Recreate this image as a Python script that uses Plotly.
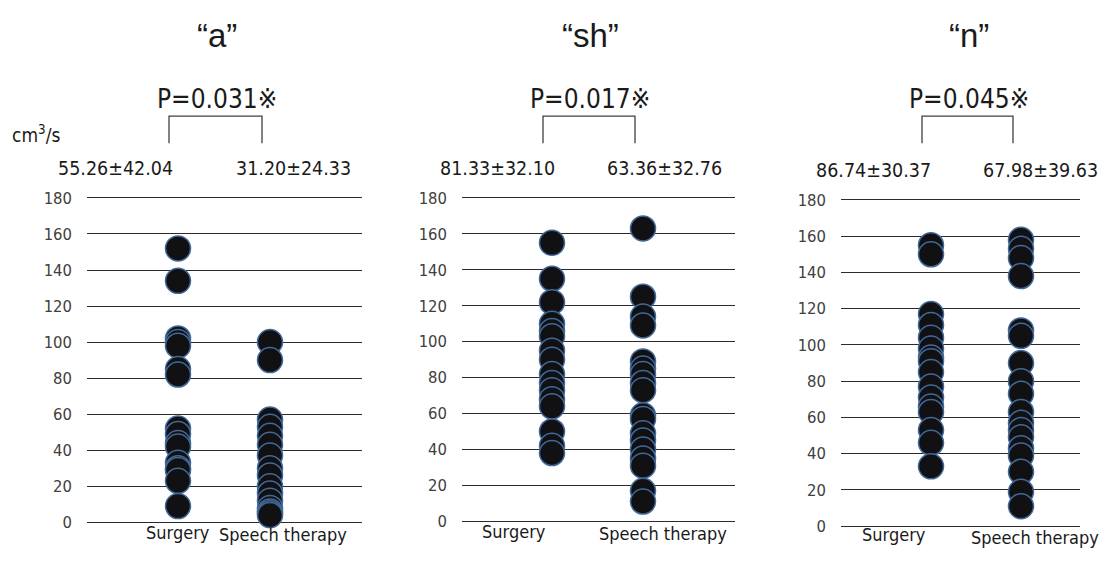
import plotly.graph_objects as go

W, H = 1108, 579

# ---- data ----
categories = ["Surgery", "Speech therapy"]
panel_titles = ["\u201ca\u201d", "\u201csh\u201d", "\u201cn\u201d"]
p_values = ["P=0.031\u203b", "P=0.017\u203b", "P=0.045\u203b"]
surgery_stats = ["55.26\u00b142.04", "81.33\u00b132.10", "86.74\u00b130.37"]
speech_stats = ["31.20\u00b124.33", "63.36\u00b132.76", "67.98\u00b139.63"]

a_surgery = [152, 134, 102, 100, 98, 85, 82, 52, 49, 44, 42, 33, 30, 29, 23, 9]
a_speech = [100, 90, 57, 53, 48, 43, 37, 30, 26, 20, 16, 12, 8, 6, 5, 4]
sh_surgery = [155, 135, 122, 110, 106, 103, 95, 90, 82, 77, 73, 68, 64, 50, 42, 38]
sh_speech = [163, 125, 114, 109, 89, 85, 82, 77, 73, 59, 57, 49, 45, 40, 35, 31, 17, 11]
n_surgery = [155, 150, 117, 111, 104, 98, 93, 91, 85, 77, 71, 66, 63, 53, 46, 33]
n_speech = [158, 153, 148, 138, 108, 105, 90, 80, 73, 63, 57, 53, 49, 43, 39, 30, 19, 11]

series = [(a_surgery, a_speech), (sh_surgery, sh_speech), (n_surgery, n_speech)]
y_ticks = [0, 20, 40, 60, 80, 100, 120, 140, 160, 180]

# ---- layout geometry (pixels) ----
# per panel: x left, x right, surgery px, speech px, y px of 0, y px of 180
panels = [
    (87, 362, 178, 270, 529, 196),
    (462, 735, 552, 643, 528, 196),
    (841, 1080, 931, 1021, 533, 198),
]
# label centres (px): surgery label, speech label, surgery stat, speech stat
label_pos = [
    ((178, 539), (283, 542), 115, 293),
    ((514, 538), (663, 541), 497, 664),
    ((894, 542), (1035, 545), 873, 1040),
]

FONT = "Tahoma, 'DejaVu Sans Condensed', 'Noto Sans', 'DejaVu Sans', sans-serif"
TITLE_FONT = "'Liberation Sans Narrow', 'Arial Narrow', 'Liberation Sans', sans-serif"
TXT = "#1a1a1a"

fig = go.Figure()


def px(x):
    return x / W


def py(y):
    return 1 - y / H


layout = dict(
    width=W, height=H,
    margin=dict(l=0, r=0, t=0, b=0),
    paper_bgcolor="white", plot_bgcolor="white",
    showlegend=False,
    font=dict(family=FONT, color=TXT, size=15),
)

annotations = []
shapes = []

for i, ((xl, xr, xs, xsp, y0, y180), (surg, speech)) in enumerate(zip(panels, series)):
    k = "" if i == 0 else str(i + 1)
    unit_x = xsp - xs
    xr0 = (xl - xs) / unit_x
    xr1 = 1 + (xr - xsp) / unit_x
    unit_y = (y0 - y180) / 180.0
    ylo, yhi = -1, 181
    ytop = y180 - (yhi - 180) * unit_y
    ybot = y0 + (0 - ylo) * unit_y

    layout["xaxis" + k] = dict(
        domain=[px(xl), px(xr)], range=[xr0, xr1], anchor="y" + k,
        showgrid=False, zeroline=False, showticklabels=False, showline=False,
        fixedrange=True,
    )
    layout["yaxis" + k] = dict(
        domain=[py(ybot), py(ytop)], range=[ylo, yhi], anchor="x" + k,
        tickvals=y_ticks, showgrid=True, gridcolor="#2a2a2a", gridwidth=1,
        zeroline=False, showline=False,
        tickfont=dict(family=FONT, size=16.5, color="#404040"),
        ticklabelstandoff=14, fixedrange=True,
    )

    for vals, xi in ((surg, 0), (speech, 1)):
        fig.add_trace(go.Scatter(
            x=[xi] * len(vals), y=vals, mode="markers",
            xaxis="x" + k, yaxis="y" + k, cliponaxis=False,
            marker=dict(size=25, color="#111114",
                        line=dict(color="#41699a", width=1.5)),
            hoverinfo="y",
        ))

    (sx, sy), (tx, ty), s1, s2 = label_pos[i]
    for (cx, cy), name in (((sx, sy), categories[0]), ((tx, ty), categories[1])):
        annotations.append(dict(
            x=px(cx), y=py(cy), xref="paper", yref="paper", text=name,
            showarrow=False, xanchor="center", yanchor="middle",
            font=dict(family=FONT, size=18, color=TXT),
        ))

    stat_y = 166 if i < 2 else 168
    for cx, txt in ((s1, surgery_stats[i]), (s2, speech_stats[i])):
        annotations.append(dict(
            x=px(cx), y=py(stat_y), xref="paper", yref="paper", text=txt,
            showarrow=False, xanchor="center", yanchor="middle",
            font=dict(family=FONT, size=19.5, color=TXT),
        ))

    # significance bracket
    bl, br = xs - 9, xsp - 8
    shapes.append(dict(
        type="path", xref="paper", yref="paper",
        path=f"M {px(bl)} {py(140)} L {px(bl)} {py(112)} L {px(br)} {py(112)} L {px(br)} {py(140)}",
        line=dict(color="#404040", width=1.3),
    ))
    # p value
    annotations.append(dict(
        x=px((bl + br) / 2 + 1), y=py(94), xref="paper", yref="paper",
        text=p_values[i], showarrow=False, xanchor="center", yanchor="middle",
        font=dict(family=FONT, size=26, color=TXT),
    ))
    # panel title
    annotations.append(dict(
        x=px((bl + br) / 2 + 1), y=py(29), xref="paper", yref="paper",
        text=panel_titles[i], showarrow=False, xanchor="center", yanchor="middle",
        font=dict(family=TITLE_FONT, size=33, color=TXT),
    ))

annotations.append(dict(
    x=px(10), y=py(130), xref="paper", yref="paper",
    text="cm<sup>3</sup>/s", showarrow=False, xanchor="left", yanchor="middle",
    font=dict(family=FONT, size=19, color=TXT),
))

layout["annotations"] = annotations
layout["shapes"] = shapes
fig.update_layout(**layout)

post = (
    "document.documentElement.style.margin='0';"
    "document.body.style.margin='0';document.body.style.padding='0';"
    "document.documentElement.style.overflow='hidden';"
)
fig.write_html("out.html", post_script=post, config={"displayModeBar": False})
